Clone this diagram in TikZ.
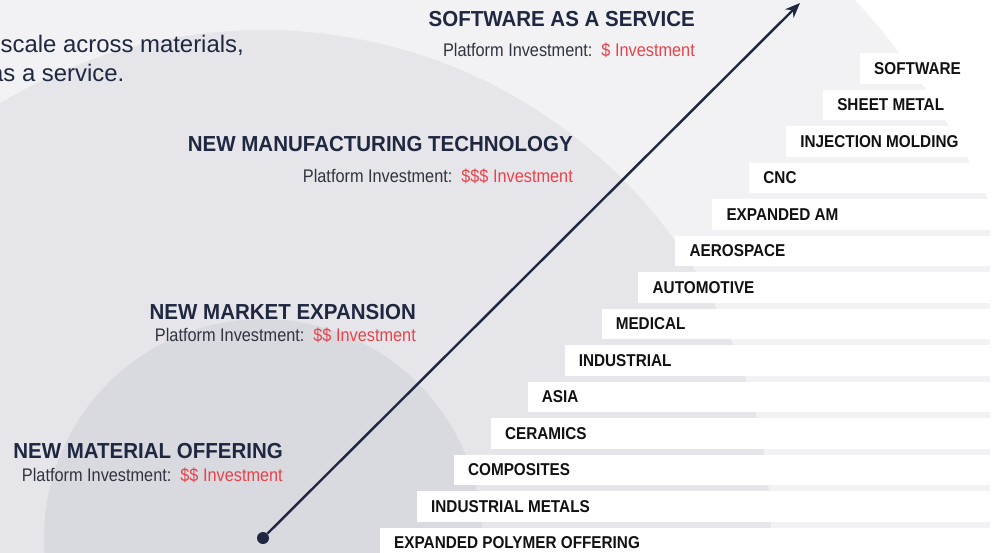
\documentclass[tikz,border=0pt]{standalone}
\usepackage{fontspec}
\usepackage{graphicx}
\setmainfont{Liberation Sans}
\usetikzlibrary{arrows.meta}
\definecolor{navy}{HTML}{1F2741}
\definecolor{subgrey}{HTML}{30343F}
\definecolor{invred}{HTML}{E8434B}
\definecolor{bgA}{HTML}{F2F2F4}
\definecolor{bgB}{HTML}{E6E6EA}
\definecolor{bgC}{HTML}{D9DAE0}
\definecolor{barink}{HTML}{111111}
\newcommand\tallby[2]{\scalebox{1}[#1]{#2}}
\begin{document}
\begin{tikzpicture}[x=1pt,y=-1pt,
  heading/.style={font=\fontsize{20.5}{24}\selectfont\bfseries, text=navy, inner sep=0pt, anchor=east},
  invest/.style={font=\fontsize{16.3}{19}\selectfont, text=subgrey, inner sep=0pt, anchor=base east},
  barlabel/.style={font=\fontsize{15.3}{18}\selectfont\bfseries, text=barink, inner sep=0pt, anchor=west},
  intro/.style={font=\fontsize{23.9}{29}\selectfont, text=navy, inner sep=0pt, anchor=base west},
  dotnode/.style={circle, fill=navy, inner sep=0pt, minimum size=12pt},
  growth/.style={navy, line width=2.4pt, -{Stealth[length=15pt,width=12pt]}}]
\useasboundingbox (0,0) rectangle (1000,552);
\begin{scope}
\clip (0,0) rectangle (1000,552);
\fill[white] (0,0) rectangle (1000,552);
\fill[bgA] (263,538) circle[radius=800pt];
\fill[bgB] (263,538) circle[radius=508pt];
\fill[bgC] (263,538) circle[radius=219pt];
\fill[white] (990,0) rectangle (1000,552);
% staircase bars
\foreach \i/\t in {0/SOFTWARE,1/SHEET METAL,2/INJECTION MOLDING,3/CNC,4/EXPANDED AM,5/AEROSPACE,6/AUTOMOTIVE,7/MEDICAL,8/INDUSTRIAL,9/ASIA,10/CERAMICS,11/COMPOSITES,12/INDUSTRIAL METALS,13/EXPANDED POLYMER OFFERING}{
  \pgfmathsetmacro\bx{860-36.92*\i}
  \pgfmathsetmacro\by{53+36.5*\i}
  \fill[white] (\bx,\by) rectangle (1000,\by+30.5);
  \node[barlabel] (bar\i) at (\bx+14,\by+15.25) {\tallby{1.12}{\t}};
}
% intro text (cut off at the left edge, as in the reference)
\node[intro] (introA) at (0.5,52) {scale across materials,};
\node[intro] (introB) at (-10,81) {as a service.};
\end{scope}
% headings
\node[heading] (saas) at (695,19.5) {\tallby{1.06}{SOFTWARE AS A SERVICE}};
\node[invest] (saasinv) at (695,56) {\tallby{1.12}{Platform Investment:\hspace{0.55em}\textcolor{invred}{\$ Investment}}};
\node[heading] (nmt) at (573,144) {\tallby{1.06}{NEW MANUFACTURING TECHNOLOGY}};
\node[invest] (nmtinv) at (573,182) {\tallby{1.12}{Platform Investment:\hspace{0.55em}\textcolor{invred}{\$\$\$ Investment}}};
\node[heading] (nme) at (416,312.5) {\tallby{1.06}{NEW MARKET EXPANSION}};
\node[invest] (nmeinv) at (416,341.5) {\tallby{1.12}{Platform Investment:\hspace{0.55em}\textcolor{invred}{\$\$ Investment}}};
\node[heading] (nmo) at (283,451.5) {\tallby{1.06}{NEW MATERIAL OFFERING}};
\node[invest] (nmoinv) at (283,481.5) {\tallby{1.12}{Platform Investment:\hspace{0.55em}\textcolor{invred}{\$\$ Investment}}};
% growth arrow
\node[dotnode] (start) at (263,538) {};
\coordinate (tip) at (800,3);
\draw[growth] (start) -- (tip);
\end{tikzpicture}
\end{document}
